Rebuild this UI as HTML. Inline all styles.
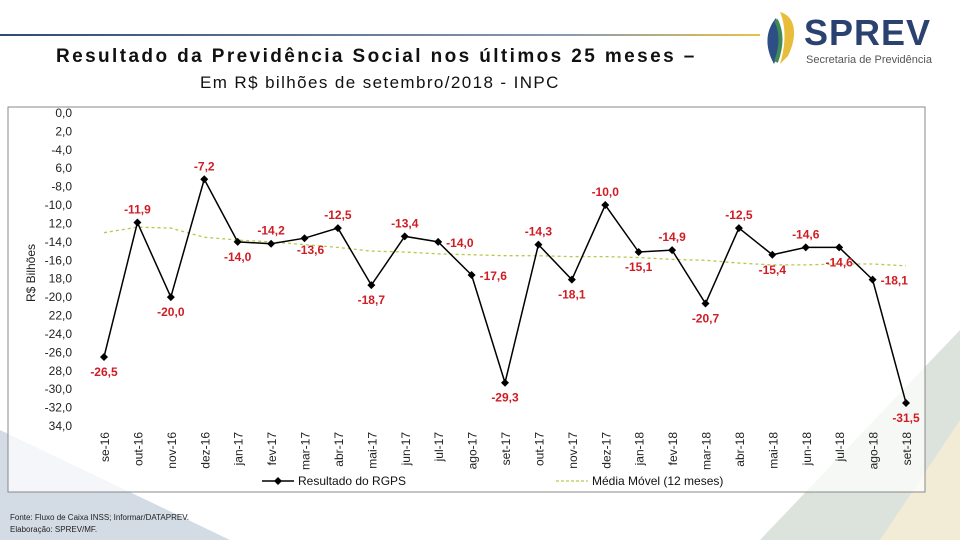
<!DOCTYPE html>
<html><head><meta charset="utf-8"><style>
body{margin:0;width:960px;height:540px;overflow:hidden;background:#fff;font-family:"Liberation Sans",sans-serif;position:relative}
.abs{position:absolute}
</style></head><body>
<svg class="abs" style="left:0;top:0" width="960" height="540">
<defs><linearGradient id="tl" x1="0" x2="1"><stop offset="0" stop-color="#2f4a74"/><stop offset="0.75" stop-color="#8a9bb0"/><stop offset="1" stop-color="#e8c24a"/></linearGradient></defs>
<rect x="0" y="34" width="760" height="2" fill="url(#tl)"/>
<polygon points="0,430 230,540 0,540" fill="#d3dbe5"/>
<polygon points="960,330 960,540 760,540" fill="#dbe3dc"/>
<polygon points="960,420 960,540 880,540" fill="#f2ebd6"/>
</svg>
<div class="abs" style="left:762px;top:6px;width:190px;height:64px">
<svg width="60" height="64" style="position:absolute;left:0;top:0"><path d="M14,12 C4,24 2,40 12,58 C18,44 20,28 14,12Z" fill="#2e4e86"/><path d="M18,6 C34,10 36,30 26,50 L18,58 C24,38 24,20 18,6Z" fill="#e9bd3c"/><path d="M14,14 C20,26 20,40 14,56" stroke="#3f8a55" stroke-width="4" fill="none"/></svg>
<div style="position:absolute;left:42px;top:6px;font-weight:bold;font-size:36px;color:#2b4170;letter-spacing:1px">SPREV</div>
<div style="position:absolute;left:44px;top:48px;font-size:11px;color:#555">Secretaria de Previdência</div>
</div>
<div class="abs" style="left:56px;top:46px;font-size:19px;font-weight:bold;color:#111;letter-spacing:2.4px">Resultado da Previdência Social nos últimos 25 meses –</div>
<div class="abs" style="left:200px;top:73px;font-size:17px;color:#111;letter-spacing:1.4px">Em R$ bilhões de setembro/2018 - INPC</div>
<svg id="chart" class="abs" style="left:0;top:0" width="960" height="540"></svg>
<div class="abs" style="left:10px;top:512px;font-size:8px;color:#222;line-height:12px">Fonte: Fluxo de Caixa INSS; Informar/DATAPREV.<br>Elaboração: SPREV/MF.</div>
<script>
const categories=["se-16","out-16","nov-16","dez-16","jan-17","fev-17","mar-17","abr-17","mai-17","jun-17","jul-17","ago-17","set-17","out-17","nov-17","dez-17","jan-18","fev-18","mar-18","abr-18","mai-18","jun-18","jul-18","ago-18","set-18"];
const rgps=[-26.5,-11.9,-20.0,-7.2,-14.0,-14.2,-13.6,-12.5,-18.7,-13.4,-14.0,-17.6,-29.3,-14.3,-18.1,-10.0,-15.1,-14.9,-20.7,-12.5,-15.4,-14.6,-14.6,-18.1,-31.5];
const movAvg=[-13.0,-12.4,-12.5,-13.5,-13.8,-14.0,-14.3,-14.6,-15.0,-15.1,-15.3,-15.4,-15.5,-15.5,-15.6,-15.6,-15.7,-15.9,-16.0,-16.3,-16.5,-16.5,-16.4,-16.4,-16.6];
const yTicks=["0,0","2,0","-4,0","6,0","-8,0","-10,0","12,0","-14,0","-16,0","18,0","-20,0","22,0","-24,0","-26,0","28,0","-30,0","-32,0","34,0"];
const labelPos=["b","a","b","a","b","a","br","a","b","a","r","r","b","a","b","a","b","a","b","a","b","a","b","r","b"];
const svg=document.getElementById('chart'),NS="http://www.w3.org/2000/svg";
const X0=104,X1=906,Y0=113,Y1=426;
const x=i=>X0+(X1-X0)*i/(categories.length-1);
const y=v=>Y0+(Y1-Y0)*(-v)/34;
function mk(t,a,p){const e=document.createElementNS(NS,t);for(const k in a)e.setAttribute(k,a[k]);(p||svg).appendChild(e);return e;}
let fr=mk('rect',{x:8,y:107,width:917,height:385,fill:'#fff','fill-opacity':0.75,stroke:'#888','stroke-width':1});


yTicks.forEach((t,i)=>{const e=mk('text',{x:72,y:Y0+i*(Y1-Y0)/17+4,'text-anchor':'end','font-size':12,fill:'#222'});e.textContent=t;

});
let yt=mk('text',{x:0,y:0,transform:'translate(35,273) rotate(-90)','text-anchor':'middle','font-size':12,fill:'#222'});yt.textContent='R$ Bilhões';


categories.forEach((c,i)=>{const e=mk('text',{x:0,y:0,transform:`translate(${x(i)+5},432) rotate(-90)`,'text-anchor':'end','font-size':12,fill:'#222'});e.textContent=c;

});
let ma=mk('polyline',{points:movAvg.map((v,i)=>x(i)+','+y(v)).join(' '),fill:'none',stroke:'#b8c94a','stroke-width':1.3,'stroke-dasharray':'3,3'});


let ln=mk('polyline',{points:rgps.map((v,i)=>x(i)+','+y(v)).join(' '),fill:'none',stroke:'#000','stroke-width':1.5});


rgps.forEach((v,i)=>{const px=x(i),py=y(v);
const d=mk('polygon',{points:`${px},${py-4} ${px+4},${py} ${px},${py+4} ${px-4},${py}`,fill:'#000'});


const p=labelPos[i];let lx=px,ly=p==='a'?py-9:py+19,anc='middle';if(p==='r'){lx=px+8;ly=py+5;anc='start';}if(p==='br'){lx=px+6;ly=py+16;}
const t=mk('text',{x:lx,y:ly,'text-anchor':anc,'font-size':12,'font-weight':'bold',fill:'#d01c24'});t.textContent=v.toFixed(1).replace('.',',');

});
let l1=mk('g',{});

mk('line',{x1:262,y1:481,x2:294,y2:481,stroke:'#000','stroke-width':1.5},l1);
mk('polygon',{points:'278,477 282,481 278,485 274,481',fill:'#000'},l1);
let t1=mk('text',{x:298,y:485,'font-size':12,fill:'#111'},l1);t1.textContent='Resultado do RGPS';
let l2=mk('g',{});

mk('line',{x1:556,y1:481,x2:588,y2:481,stroke:'#b8c94a','stroke-width':1.3,'stroke-dasharray':'3,2'},l2);
let t2=mk('text',{x:592,y:485,'font-size':12,fill:'#111'},l2);t2.textContent='Média Móvel (12 meses)';
</script>
</body></html>
